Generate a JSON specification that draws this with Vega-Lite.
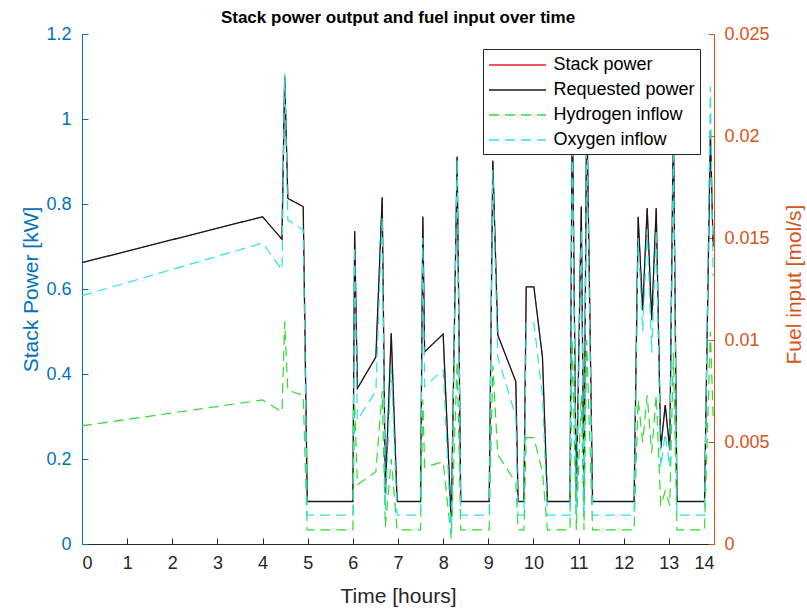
{
  "$schema": "https://vega.github.io/schema/vega-lite/v6.json",
  "width": 632,
  "height": 510,
  "autosize": {"type": "none"},
  "padding": {"left": 82, "top": 34, "right": 93, "bottom": 66},
  "background": "white",
  "config": {
    "font": "Liberation Sans",
    "view": {"stroke": null},
    "axis": {"grid": false, "labelFont": "Liberation Sans", "titleFont": "Liberation Sans", "titleFontWeight": "normal", "labelFontSize": 18, "titleFontSize": 21, "domainWidth": 1, "tickWidth": 1}
  },
  "title": {"text": "Stack power output and fuel input over time", "fontSize": 17, "fontWeight": "bold", "font": "Liberation Sans", "color": "#000000", "anchor": "middle", "offset": -2},
  "data": {"values": [
    {"t": 0.00, "Stack power": 0.662, "Requested power": 0.662, "Oxygen inflow": 0.01217, "Hydrogen inflow": 0.00579},
    {"t": 4.00, "Stack power": 0.770, "Requested power": 0.770, "Oxygen inflow": 0.01475, "Hydrogen inflow": 0.00706},
    {"t": 4.43, "Stack power": 0.717, "Requested power": 0.717, "Oxygen inflow": 0.01344, "Hydrogen inflow": 0.00648},
    {"t": 4.49, "Stack power": 1.100, "Requested power": 1.100, "Oxygen inflow": 0.02306, "Hydrogen inflow": 0.01090},
    {"t": 4.56, "Stack power": 0.813, "Requested power": 0.813, "Oxygen inflow": 0.01588, "Hydrogen inflow": 0.00754},
    {"t": 4.90, "Stack power": 0.794, "Requested power": 0.794, "Oxygen inflow": 0.01540, "Hydrogen inflow": 0.00729},
    {"t": 4.99, "Stack power": 0.100, "Requested power": 0.100, "Oxygen inflow": 0.00142, "Hydrogen inflow": 0.00069},
    {"t": 6.00, "Stack power": 0.100, "Requested power": 0.100, "Oxygen inflow": 0.00142, "Hydrogen inflow": 0.00069},
    {"t": 6.04, "Stack power": 0.736, "Requested power": 0.736, "Oxygen inflow": 0.01458, "Hydrogen inflow": 0.00688},
    {"t": 6.10, "Stack power": 0.366, "Requested power": 0.366, "Oxygen inflow": 0.00608, "Hydrogen inflow": 0.00290},
    {"t": 6.51, "Stack power": 0.440, "Requested power": 0.440, "Oxygen inflow": 0.00750, "Hydrogen inflow": 0.00354},
    {"t": 6.65, "Stack power": 0.815, "Requested power": 0.815, "Oxygen inflow": 0.01604, "Hydrogen inflow": 0.00750},
    {"t": 6.72, "Stack power": 0.120, "Requested power": 0.120, "Oxygen inflow": 0.00167, "Hydrogen inflow": 0.00083},
    {"t": 6.85, "Stack power": 0.496, "Requested power": 0.496, "Oxygen inflow": 0.00875, "Hydrogen inflow": 0.00417},
    {"t": 6.98, "Stack power": 0.100, "Requested power": 0.100, "Oxygen inflow": 0.00142, "Hydrogen inflow": 0.00069},
    {"t": 7.50, "Stack power": 0.100, "Requested power": 0.100, "Oxygen inflow": 0.00142, "Hydrogen inflow": 0.00069},
    {"t": 7.55, "Stack power": 0.770, "Requested power": 0.770, "Oxygen inflow": 0.01500, "Hydrogen inflow": 0.00708},
    {"t": 7.59, "Stack power": 0.452, "Requested power": 0.452, "Oxygen inflow": 0.00771, "Hydrogen inflow": 0.00375},
    {"t": 8.00, "Stack power": 0.494, "Requested power": 0.494, "Oxygen inflow": 0.00854, "Hydrogen inflow": 0.00404},
    {"t": 8.18, "Stack power": 0.050, "Requested power": 0.050, "Oxygen inflow": 0.00042, "Hydrogen inflow": 0.00025},
    {"t": 8.31, "Stack power": 0.911, "Requested power": 0.911, "Oxygen inflow": 0.01885, "Hydrogen inflow": 0.00896},
    {"t": 8.39, "Stack power": 0.100, "Requested power": 0.100, "Oxygen inflow": 0.00142, "Hydrogen inflow": 0.00069},
    {"t": 9.02, "Stack power": 0.100, "Requested power": 0.100, "Oxygen inflow": 0.00142, "Hydrogen inflow": 0.00069},
    {"t": 9.10, "Stack power": 0.902, "Requested power": 0.902, "Oxygen inflow": 0.01833, "Hydrogen inflow": 0.00875},
    {"t": 9.21, "Stack power": 0.492, "Requested power": 0.492, "Oxygen inflow": 0.00917, "Hydrogen inflow": 0.00438},
    {"t": 9.61, "Stack power": 0.382, "Requested power": 0.382, "Oxygen inflow": 0.00625, "Hydrogen inflow": 0.00302},
    {"t": 9.66, "Stack power": 0.100, "Requested power": 0.100, "Oxygen inflow": 0.00142, "Hydrogen inflow": 0.00069},
    {"t": 9.79, "Stack power": 0.100, "Requested power": 0.100, "Oxygen inflow": 0.00142, "Hydrogen inflow": 0.00069},
    {"t": 9.84, "Stack power": 0.605, "Requested power": 0.605, "Oxygen inflow": 0.01083, "Hydrogen inflow": 0.00521},
    {"t": 10.01, "Stack power": 0.605, "Requested power": 0.605, "Oxygen inflow": 0.01083, "Hydrogen inflow": 0.00521},
    {"t": 10.20, "Stack power": 0.440, "Requested power": 0.440, "Oxygen inflow": 0.00729, "Hydrogen inflow": 0.00354},
    {"t": 10.31, "Stack power": 0.100, "Requested power": 0.100, "Oxygen inflow": 0.00142, "Hydrogen inflow": 0.00069},
    {"t": 10.81, "Stack power": 0.100, "Requested power": 0.100, "Oxygen inflow": 0.00142, "Hydrogen inflow": 0.00069},
    {"t": 10.86, "Stack power": 1.050, "Requested power": 1.050, "Oxygen inflow": 0.02083, "Hydrogen inflow": 0.01000},
    {"t": 10.95, "Stack power": 0.100, "Requested power": 0.100, "Oxygen inflow": 0.00142, "Hydrogen inflow": 0.00069},
    {"t": 11.06, "Stack power": 0.794, "Requested power": 0.794, "Oxygen inflow": 0.01542, "Hydrogen inflow": 0.00729},
    {"t": 11.12, "Stack power": 0.100, "Requested power": 0.100, "Oxygen inflow": 0.00142, "Hydrogen inflow": 0.00069},
    {"t": 11.18, "Stack power": 1.050, "Requested power": 1.050, "Oxygen inflow": 0.02083, "Hydrogen inflow": 0.01000},
    {"t": 11.31, "Stack power": 0.100, "Requested power": 0.100, "Oxygen inflow": 0.00142, "Hydrogen inflow": 0.00069},
    {"t": 12.23, "Stack power": 0.100, "Requested power": 0.100, "Oxygen inflow": 0.00142, "Hydrogen inflow": 0.00069},
    {"t": 12.32, "Stack power": 0.770, "Requested power": 0.770, "Oxygen inflow": 0.01500, "Hydrogen inflow": 0.00708},
    {"t": 12.42, "Stack power": 0.550, "Requested power": 0.550, "Oxygen inflow": 0.01042, "Hydrogen inflow": 0.00500},
    {"t": 12.52, "Stack power": 0.790, "Requested power": 0.790, "Oxygen inflow": 0.01542, "Hydrogen inflow": 0.00729},
    {"t": 12.62, "Stack power": 0.527, "Requested power": 0.527, "Oxygen inflow": 0.00938, "Hydrogen inflow": 0.00448},
    {"t": 12.72, "Stack power": 0.790, "Requested power": 0.790, "Oxygen inflow": 0.01542, "Hydrogen inflow": 0.00729},
    {"t": 12.82, "Stack power": 0.225, "Requested power": 0.225, "Oxygen inflow": 0.00375, "Hydrogen inflow": 0.00188},
    {"t": 12.92, "Stack power": 0.327, "Requested power": 0.327, "Oxygen inflow": 0.00542, "Hydrogen inflow": 0.00260},
    {"t": 13.02, "Stack power": 0.221, "Requested power": 0.221, "Oxygen inflow": 0.00375, "Hydrogen inflow": 0.00188},
    {"t": 13.10, "Stack power": 1.000, "Requested power": 1.000, "Oxygen inflow": 0.01979, "Hydrogen inflow": 0.00938},
    {"t": 13.18, "Stack power": 0.100, "Requested power": 0.100, "Oxygen inflow": 0.00142, "Hydrogen inflow": 0.00069},
    {"t": 13.79, "Stack power": 0.100, "Requested power": 0.100, "Oxygen inflow": 0.00142, "Hydrogen inflow": 0.00069},
    {"t": 13.92, "Stack power": 0.970, "Requested power": 0.970, "Oxygen inflow": 0.02242, "Hydrogen inflow": 0.01042},
    {"t": 13.98, "Stack power": 0.700, "Requested power": 0.700, "Oxygen inflow": 0.01313, "Hydrogen inflow": 0.00625}
  ]},
  "layer": [
    {
      "transform": [{"fold": ["Stack power"], "as": ["series", "value"]}],
      "mark": {"type": "line", "strokeWidth": 0.8, "clip": true},
      "encoding": {
        "x": {"field": "t", "type": "quantitative", "scale": {"domain": [0, 14], "nice": false},
          "axis": {"title": "Time [hours]", "values": [0,1,2,3,4,5,6,7,8,9,10,11,12,13,14], "domainColor": "#262626", "tickColor": "#262626", "labelColor": "#262626", "titleColor": "#262626", "tickSize": -6, "labelPadding": 16, "titleBaseline": "alphabetic", "titleY": 58}},
        "y": {"field": "value", "type": "quantitative", "scale": {"domain": [0, 1.2], "nice": false},
          "axis": {"title": "Stack Power [kW]", "orient": "left", "values": [0,0.2,0.4,0.6,0.8,1,1.2], "format": ".1~f", "domainColor": "#0072BD", "tickColor": "#0072BD", "labelColor": "#0072BD", "titleColor": "#0072BD", "tickSize": -6, "labelPadding": 17, "titleBaseline": "alphabetic", "titleX": -45}},
        "color": {"field": "series", "type": "nominal", "scale": {"domain": ["Stack power", "Requested power", "Hydrogen inflow", "Oxygen inflow"], "range": ["#e8222a", "#1a1a1a", "#2fdc2f", "#2fe3e3"]},
          "legend": {"title": null, "orient": "none", "legendX": 401, "legendY": 15, "symbolType": "M-2.85,0H2.85", "symbolSize": 400, "symbolStrokeWidth": 1.3, "symbolOffset": 18.5, "labelFontSize": 18, "labelFont": "Liberation Sans", "labelColor": "#000000", "strokeColor": "#262626", "fillColor": "#ffffff", "padding": 5, "rowPadding": 5, "labelOffset": 25}},
        "strokeDash": {"field": "series", "type": "nominal", "scale": {"domain": ["Stack power", "Requested power", "Hydrogen inflow", "Oxygen inflow"], "range": [[1, 0], [1, 0], [10, 6], [10, 6]]},
          "legend": {"title": null, "orient": "none", "legendX": 401, "legendY": 15, "symbolType": "M-2.85,0H2.85", "symbolSize": 400, "symbolStrokeWidth": 1.3, "symbolOffset": 18.5, "labelFontSize": 18, "labelFont": "Liberation Sans", "labelColor": "#000000", "strokeColor": "#262626", "fillColor": "#ffffff", "padding": 5, "rowPadding": 5, "labelOffset": 25}}
      }
    },
    {
      "transform": [{"fold": ["Requested power"], "as": ["series", "value"]}],
      "mark": {"type": "line", "strokeWidth": 1.3, "clip": true},
      "encoding": {
        "x": {"field": "t", "type": "quantitative"},
        "y": {"field": "value", "type": "quantitative", "scale": {"domain": [0, 1.2], "nice": false}, "axis": null},
        "color": {"field": "series", "type": "nominal"},
        "strokeDash": {"field": "series", "type": "nominal"}
      }
    },
    {
      "transform": [{"fold": ["Hydrogen inflow", "Oxygen inflow"], "as": ["series", "value"]}],
      "mark": {"type": "line", "strokeWidth": 1.2, "clip": true},
      "encoding": {
        "x": {"field": "t", "type": "quantitative"},
        "y": {"field": "value", "type": "quantitative", "scale": {"domain": [0, 0.025], "nice": false},
          "axis": {"title": "Fuel input [mol/s]", "orient": "right", "values": [0,0.005,0.01,0.015,0.02,0.025], "format": ".3~f", "domainColor": "#D95319", "tickColor": "#D95319", "labelColor": "#D95319", "titleColor": "#D95319", "tickSize": -6, "labelPadding": 16, "titleAngle": 270, "titleBaseline": "alphabetic", "titleX": 86, "titleY": 250}},
        "color": {"field": "series", "type": "nominal"},
        "strokeDash": {"field": "series", "type": "nominal"}
      }
    }
  ],
  "resolve": {"scale": {"y": "independent"}}
}
